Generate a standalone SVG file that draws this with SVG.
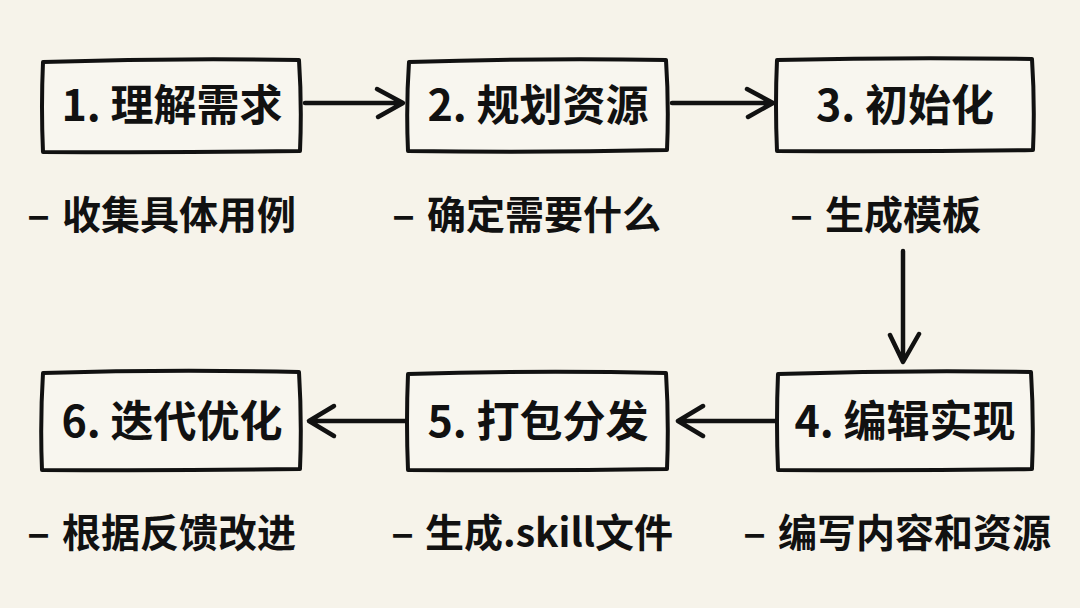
<svg xmlns="http://www.w3.org/2000/svg" width="1080" height="608" viewBox="0 0 1080 608">
<defs>
<style>
.bg{fill:#f6f3ea}
.box{fill:#f8f6ef;stroke:#111;stroke-width:4;stroke-linejoin:round;stroke-linecap:round}
.title{font-family:"Noto Sans CJK SC","Noto Sans",sans-serif;font-weight:700;font-size:43px;fill:#111;text-anchor:middle}
.sub{font-family:"Noto Sans CJK SC","Noto Sans",sans-serif;font-weight:700;font-size:39px;fill:#111}
.conn{fill:none;stroke:#111;stroke-width:4.5;stroke-linecap:round;stroke-linejoin:round}
</style>
</defs>
<rect class="bg" x="0" y="0" width="1080" height="608"/>
<g id="connectors">
<path class="conn" d="M305,103 L402,103 M377,89 L403,103 L378,117"/>
<path class="conn" d="M672,103 L772,103 M747,89 L773,103 L748,117"/>
<path class="conn" d="M903,251 L903,361 M890,335 L903,362 L919,334"/>
<path class="conn" d="M775,421 L679,421 M703,406 L678,421 L703,436"/>
<path class="conn" d="M405,421 L310,421 M334,406 L309,421 L334,436"/>
</g>
<g id="node1">
<path class="box" d="M43,62 Q170,58 299,60 Q302,105 300,151 Q170,153 43,152 Q41,107 43,62 Z"/>
<text class="title" x="172" y="121">1. 理解需求</text>
<text class="sub" x="27" y="229" textLength="23" lengthAdjust="spacingAndGlyphs">–</text>
<text class="sub" x="62" y="229">收集具体用例</text>
</g>
<g id="node2">
<path class="box" d="M409,62 Q536,58 666,60 Q669,105 667,150 Q537,153 408,151 Q406,106 409,62 Z"/>
<text class="title" x="538" y="121">2. 规划资源</text>
<text class="sub" x="392" y="229" textLength="23" lengthAdjust="spacingAndGlyphs">–</text>
<text class="sub" x="427" y="229">确定需要什么</text>
</g>
<g id="node3">
<path class="box" d="M777,60 Q905,57 1032,59 Q1035,105 1033,150 Q905,152 777,151 Q775,105 777,60 Z"/>
<text class="title" x="905" y="121">3. 初始化</text>
<text class="sub" x="790" y="229" textLength="23" lengthAdjust="spacingAndGlyphs">–</text>
<text class="sub" x="825" y="229">生成模板</text>
</g>
<g id="node4">
<path class="box" d="M778,374 Q905,370 1031,372 Q1034,421 1032,469 Q905,471 778,470 Q776,422 778,374 Z"/>
<text class="title" x="905" y="437">4. 编辑实现</text>
<text class="sub" x="743" y="547" textLength="23" lengthAdjust="spacingAndGlyphs">–</text>
<text class="sub" x="778" y="547">编写内容和资源</text>
</g>
<g id="node5">
<path class="box" d="M408,374 Q537,370 666,373 Q669,421 667,469 Q537,471 408,470 Q406,422 408,374 Z"/>
<text class="title" x="538" y="437">5. 打包分发</text>
<text class="sub" x="391" y="547" textLength="23" lengthAdjust="spacingAndGlyphs">–</text>
<text class="sub" x="425" y="547">生成.skill文件</text>
</g>
<g id="node6">
<path class="box" d="M43,373 Q170,369 299,372 Q302,421 300,469 Q170,471 42,470 Q40,422 43,373 Z"/>
<text class="title" x="172" y="437">6. 迭代优化</text>
<text class="sub" x="27" y="547" textLength="23" lengthAdjust="spacingAndGlyphs">–</text>
<text class="sub" x="62" y="547">根据反馈改进</text>
</g>
</svg>
